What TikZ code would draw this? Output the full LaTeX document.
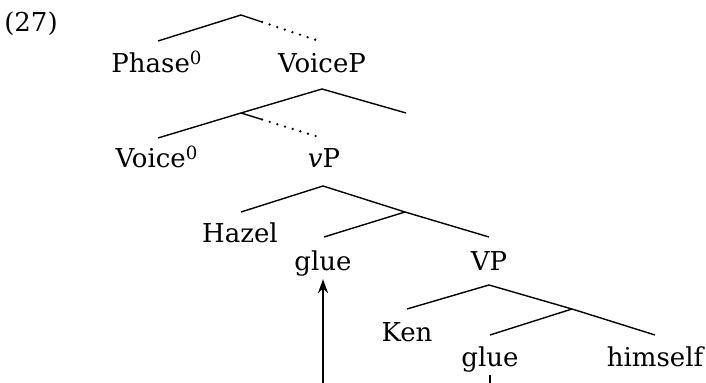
\documentclass[tikz,border=0pt]{standalone}
\usepackage{fontspec}
\setmainfont{DejaVu Serif}
\usetikzlibrary{calc,arrows.meta}
\tikzset{word/.style={anchor=base,inner sep=1pt,font=\fontsize{13}{15}\selectfont},
         edge/.style={line width=0.7pt},
         trace/.style={line width=1.3pt,line cap=round,dash pattern=on 0pt off 4pt},
         line/.style={-{Stealth[length=7pt,width=5pt]},line width=0.7pt}
}
\begin{document}
\begin{tikzpicture}[x=0.5pt,y=-0.5pt]
  \useasboundingbox (0,0) rectangle (706,383);
  \node[word] (ex) at (31,32) {(27)};
  % Phase / VoiceP
  \coordinate (a) at (241,15);
  \coordinate (a1) at (158,41);
  \coordinate (a2) at (322,42);
  \node[word] (phase) at (157,73) {Phase\textsuperscript{0}};
  \node[word] (voicep) at (322,73) {VoiceP};
  % Voice / vP
  \coordinate (b) at (322,89);
  \coordinate (b1) at (241,113);
  \coordinate (b2) at (406,113);
  \coordinate (b11) at (158,138);
  \coordinate (b12) at (322,138);
  \node[word] (voice) at (157,168) {Voice\textsuperscript{0}};
  \node[word] (vp) at (324,168) {\textit{v}P};
  % Hazel / glue / VP
  \coordinate (c) at (323,186);
  \coordinate (c1) at (241,212);
  \coordinate (c2) at (405,212);
  \coordinate (c21) at (324,237);
  \coordinate (c22) at (489,237);
  \node[word] (hazel) at (240,243) {Hazel};
  \node[word] (glueA) at (323,271) {glue};
  \node[word] (vpp) at (489,271) {VP};
  % Ken / glue / himself
  \coordinate (d) at (489,285);
  \coordinate (d1) at (407,309);
  \coordinate (d2) at (572,309);
  \coordinate (d21) at (490,335);
  \coordinate (d22) at (655,335);
  \node[word] (ken) at (407,342) {Ken};
  \node[word] (glueB) at (490,367) {glue};
  \node[word] (himself) at (655,367) {himself};

  \draw[edge] (a1) -- (a) -- ($(a)!0.26!(a2)$);
  \draw[trace] ($(a)!0.26!(a2)$) -- (a2);
  \draw[edge] (b11) -- (b1) -- (b) -- (b2);
  \draw[edge] (b1) -- ($(b1)!0.26!(b12)$);
  \draw[trace] ($(b1)!0.26!(b12)$) -- (b12);
  \draw[edge] (c1) -- (c) -- (c2) -- (c22);
  \draw[edge] (c2) -- (c21);
  \draw[edge] (d1) -- (d) -- (d2) -- (d22);
  \draw[edge] (d2) -- (d21);
  \draw[line] (glueB.south) -- ++(0,40) -| (glueA.south);
\end{tikzpicture}
\end{document}
